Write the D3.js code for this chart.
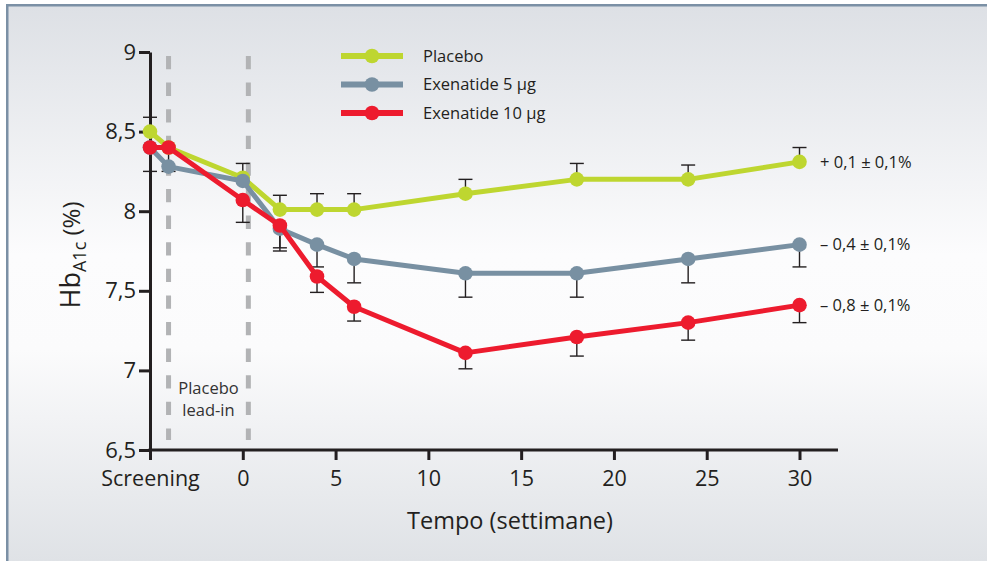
<!DOCTYPE html>
<html>
<head>
<meta charset="utf-8">
<script src="https://cdn.jsdelivr.net/npm/d3@7"></script>
<style>
  html, body { margin: 0; padding: 0; background: #fff; }
  svg { display: block; font-family: "Open Sans", "Noto Sans", sans-serif; }
</style>
</head>
<body>
<svg id="chart" width="987" height="561"></svg>
<script>
// ---- data ----
const weeks = [-5, -4, 0, 2, 4, 6, 12, 18, 24, 30];
const placebo = [8.5, 8.4, 8.21, 8.01, 8.01, 8.01, 8.11, 8.2, 8.2, 8.31];
const exenatide5 = [8.4, 8.28, 8.19, 7.89, 7.79, 7.70, 7.61, 7.61, 7.70, 7.79];
const exenatide10 = [8.4, 8.4, 8.07, 7.91, 7.59, 7.40, 7.11, 7.21, 7.30, 7.41];
// standard errors (placebo drawn upward, exenatide drawn downward)
const placeboSE = [0.09, null, 0.09, 0.09, 0.10, 0.10, 0.09, 0.10, 0.09, 0.09];
const exenatide5SE = [null, null, null, 0.14, 0.14, 0.15, 0.15, 0.15, 0.15, 0.14];
const exenatide10SE = [0.15, 0.15, 0.14, 0.14, 0.10, 0.09, 0.10, 0.12, 0.11, 0.11];
const seriesNames = ["Placebo", "Exenatide 5 µg", "Exenatide 10 µg"];
const changeLabels = ["+ 0,1 ± 0,1%", "– 0,4 ± 0,1%", "– 0,8 ± 0,1%"];
const xTickValues = [-5, 0, 5, 10, 15, 20, 25, 30];
const xTickLabels = ["Screening", "0", "5", "10", "15", "20", "25", "30"];
const yTickValues = [6.5, 7, 7.5, 8, 8.5, 9];
const yTickLabels = ["6,5", "7", "7,5", "8", "8,5", "9"];
const leadInWeeks = [-4, 0.3];
const leadInLabel = ["Placebo", "lead-in"];
const xTitle = "Tempo (settimane)";

// ---- setup ----
const svg = d3.select("#chart");
const ink = "#231f20";
const colors = ["#bed630", "#7890a2", "#ed1b2e"];

const defs = svg.append("defs");
const grad = defs.append("linearGradient").attr("id", "bg").attr("x1", 0).attr("y1", 0).attr("x2", 0).attr("y2", 1);
grad.append("stop").attr("offset", "0%").attr("stop-color", "#dde0e5");
grad.append("stop").attr("offset", "45%").attr("stop-color", "#fcfcfd");
grad.append("stop").attr("offset", "62%").attr("stop-color", "#fbfbfc");
grad.append("stop").attr("offset", "100%").attr("stop-color", "#dfe2e6");

svg.append("rect").attr("x", 7).attr("y", 5).attr("width", 980).attr("height", 556).attr("fill", "url(#bg)");
svg.append("rect").attr("x", 6).attr("y", 4).attr("width", 981).attr("height", 2.5).attr("fill", "#7b90a5");
svg.append("rect").attr("x", 6).attr("y", 4).attr("width", 2.5).attr("height", 557).attr("fill", "#7b90a5");

const x = d3.scaleLinear().domain([-5, 30]).range([150, 799.5]);
const y = d3.scaleLinear().domain([6.5, 9]).range([450, 52]);

// ---- lead-in dashed lines ----
svg.selectAll("line.lead").data(leadInWeeks).enter().append("line")
  .attr("x1", d => x(d)).attr("x2", d => x(d))
  .attr("y1", 56).attr("y2", 440)
  .attr("stroke", "#b2b3b5").attr("stroke-width", 5)
  .attr("stroke-dasharray", "13.3,13.3");

const leadText = svg.append("text").attr("text-anchor", "middle")
  .attr("font-size", 16.5).attr("fill", "#333");
leadInLabel.forEach((t, i) => {
  leadText.append("tspan").attr("x", (x(leadInWeeks[0]) + x(leadInWeeks[1])) / 2)
    .attr("y", 394 + i * 22).text(t);
});

// ---- axes ----
const yAxis = d3.axisLeft(y).tickValues(yTickValues)
  .tickFormat((d, i) => yTickLabels[i]).tickSize(11).tickSizeOuter(0).tickPadding(3);
const gy = svg.append("g").attr("transform", "translate(150,0)").call(yAxis);
gy.select(".domain").attr("stroke", ink).attr("stroke-width", 3);
gy.selectAll(".tick line").attr("stroke", ink).attr("stroke-width", 3);
gy.selectAll(".tick text").attr("font-size", 22).attr("fill", ink)
  .attr("font-family", "'Open Sans', sans-serif");

const xAxis = d3.axisBottom(x).tickValues(xTickValues)
  .tickFormat((d, i) => xTickLabels[i]).tickSize(10).tickSizeOuter(0).tickPadding(11);
const gx = svg.append("g").attr("transform", "translate(0,450)").call(xAxis);
gx.select(".domain").attr("d", "M148.5,0H838").attr("stroke", ink).attr("stroke-width", 3);
gx.selectAll(".tick line").attr("stroke", ink).attr("stroke-width", 3);
gx.selectAll(".tick text").attr("font-size", 21.5).attr("fill", ink)
  .attr("font-family", "'Open Sans', sans-serif");

svg.append("text").attr("x", 510).attr("y", 529).attr("text-anchor", "middle")
  .attr("font-size", 23.5).attr("fill", ink).text(xTitle);

const yTitle = svg.append("text").attr("transform", "translate(80,255) rotate(-90)")
  .attr("text-anchor", "middle").attr("fill", ink).attr("font-size", 27);
yTitle.append("tspan").text("Hb");
yTitle.append("tspan").attr("font-size", 18).attr("dy", 6).text("A1c");
yTitle.append("tspan").attr("font-size", 24).attr("dy", -6).text(" (%)");

// ---- error bars ----
const seriesVals = [placebo, exenatide5, exenatide10];
const seriesSE = [placeboSE, exenatide5SE, exenatide10SE];
const dirs = [1, -1, -1];
const errG = svg.append("g").attr("stroke", ink).attr("stroke-width", 1.4);
seriesVals.forEach((vals, s) => {
  weeks.forEach((w, i) => {
    const se = seriesSE[s][i];
    if (se == null) return;
    const v0 = vals[i], v1 = vals[i] + dirs[s] * se;
    const cx = x(w);
    errG.append("line").attr("x1", cx).attr("x2", cx).attr("y1", y(v0)).attr("y2", y(v1));
    errG.append("line").attr("x1", cx - 7).attr("x2", cx + 7).attr("y1", y(v1)).attr("y2", y(v1));
  });
});

// ---- series ----
const line = d3.line().x(d => x(d[0])).y(d => y(d[1]));
seriesVals.forEach((vals, s) => {
  const pts = weeks.map((w, i) => [w, vals[i]]);
  svg.append("path").datum(pts).attr("d", line)
    .attr("fill", "none").attr("stroke", colors[s]).attr("stroke-width", 5)
    .attr("stroke-linejoin", "round");
  svg.append("g").selectAll("circle").data(pts).enter().append("circle")
    .attr("cx", d => x(d[0])).attr("cy", d => y(d[1])).attr("r", 7.3)
    .attr("fill", colors[s]);
});

// ---- end labels ----
seriesVals.forEach((vals, s) => {
  svg.append("text").attr("x", 820).attr("y", y(vals[vals.length - 1]))
    .attr("dy", "0.35em").attr("font-size", 16.5).attr("fill", ink)
    .text(changeLabels[s]);
});

// ---- legend ----
const legY = [56, 84.5, 113];
seriesNames.forEach((name, s) => {
  const g = svg.append("g").attr("transform", `translate(0,${legY[s]})`);
  g.append("line").attr("x1", 341).attr("x2", 403).attr("stroke", colors[s]).attr("stroke-width", 6);
  g.append("circle").attr("cx", 372).attr("r", 7.3).attr("fill", colors[s]);
  g.append("text").attr("x", 423).attr("dy", "0.35em").attr("font-size", 16.5).attr("fill", ink).text(name);
});
</script>
</body>
</html>
